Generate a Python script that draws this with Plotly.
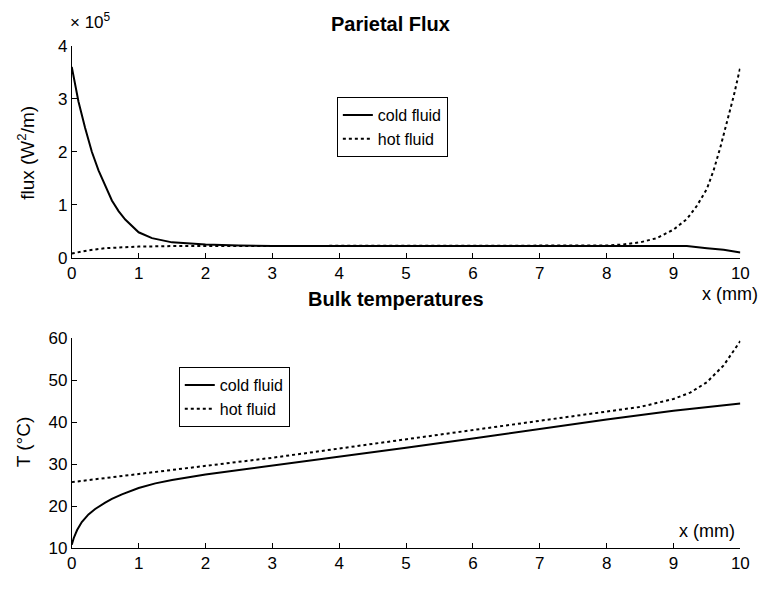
import plotly.graph_objects as go

# ---- data: Parietal flux (units of 1e5 W/m) ----
x_flux_cold = [0, 0.05, 0.1, 0.2, 0.3, 0.4, 0.5, 0.6, 0.7, 0.8, 1.0, 1.2, 1.5, 2.0, 2.5, 3, 4, 5, 6, 7, 8, 9, 9.2, 9.5, 9.75, 10]
flux_cold = [3.6, 3.25, 2.95, 2.45, 2.0, 1.65, 1.35, 1.08, 0.88, 0.72, 0.48, 0.37, 0.29, 0.25, 0.23, 0.22, 0.22, 0.22, 0.22, 0.22, 0.22, 0.22, 0.22, 0.18, 0.15, 0.1]
x_flux_hot = [0, 0.25, 0.5, 1.0, 1.5, 2, 3, 4, 5, 6, 7, 8, 8.25, 8.5, 8.75, 9.0, 9.2, 9.35, 9.5, 9.6, 9.7, 9.8, 9.9, 10]
flux_hot = [0.08, 0.14, 0.18, 0.21, 0.22, 0.22, 0.22, 0.22, 0.22, 0.22, 0.22, 0.23, 0.25, 0.29, 0.37, 0.53, 0.73, 0.98, 1.3, 1.65, 2.08, 2.56, 3.05, 3.6]

# ---- data: Bulk temperatures (°C) ----
x_temp_cold = [0, 0.03, 0.08, 0.15, 0.25, 0.35, 0.5, 0.6, 0.75, 1.0, 1.25, 1.5, 2, 3, 4, 5, 6, 7, 8, 9, 9.5, 10]
temp_cold = [10.8, 12.4, 14.3, 16.2, 18.0, 19.3, 20.8, 21.7, 22.8, 24.3, 25.4, 26.2, 27.5, 29.6, 31.7, 33.9, 36.1, 38.4, 40.6, 42.7, 43.6, 44.4]
x_temp_hot = [0, 1, 2, 3, 4, 5, 6, 7, 8, 8.5, 9, 9.25, 9.5, 9.75, 10]
temp_hot = [25.7, 27.6, 29.6, 31.5, 33.7, 35.9, 38.1, 40.2, 42.4, 43.6, 45.5, 47.0, 49.5, 53.5, 59.3]

series_names = ["cold fluid", "hot fluid"]
x_ticks = [0, 1, 2, 3, 4, 5, 6, 7, 8, 9, 10]

W, H = 769, 590
FONT = "Liberation Sans, Arial, sans-serif"

fig = go.Figure()
solid = dict(color="black", width=2)
dotted = dict(color="black", width=2, dash="dot")

fig.add_trace(go.Scatter(x=x_flux_cold, y=flux_cold, mode="lines", line=solid,
                         name=series_names[0], xaxis="x", yaxis="y", legend="legend"))
fig.add_trace(go.Scatter(x=x_flux_hot, y=flux_hot, mode="lines", line=dotted,
                         name=series_names[1], xaxis="x", yaxis="y", legend="legend"))
fig.add_trace(go.Scatter(x=x_temp_cold, y=temp_cold, mode="lines", line=solid,
                         name=series_names[0], xaxis="x2", yaxis="y2", legend="legend2"))
fig.add_trace(go.Scatter(x=x_temp_hot, y=temp_hot, mode="lines", line=dotted,
                         name=series_names[1], xaxis="x2", yaxis="y2", legend="legend2"))

x0, x1 = 68 / W, 749 / W
axis_common = dict(showline=True, linecolor="black", linewidth=1, ticks="inside",
                   ticklen=5, tickcolor="black", showgrid=False, zeroline=False,
                   tickfont=dict(family=FONT, size=17, color="black"), mirror=False)

fig.update_layout(
    width=W, height=H, margin=dict(l=0, r=0, t=0, b=0),
    paper_bgcolor="white", plot_bgcolor="white", showlegend=True,
    font=dict(family=FONT, color="black"),
    xaxis=dict(domain=[x0, x1], range=[0, 10], tickvals=x_ticks, anchor="y", **axis_common),
    yaxis=dict(domain=[1 - 257 / H, 1 - 38 / H], range=[0, 4], tickvals=[0, 1, 2, 3, 4], anchor="x", **axis_common),
    xaxis2=dict(domain=[x0, x1], range=[0, 10], tickvals=x_ticks, anchor="y2", **axis_common),
    yaxis2=dict(domain=[1 - 557 / H, 1 - 340 / H], range=[10, 60], tickvals=[10, 20, 30, 40, 50, 60], anchor="x2", **axis_common),
    legend=dict(x=338 / W, y=1 - 91 / H, xanchor="left", yanchor="top",
                bordercolor="black", borderwidth=1, bgcolor="white",
                font=dict(family=FONT, size=16, color="black"), tracegroupgap=0),
    legend2=dict(x=177 / W, y=1 - 370 / H, xanchor="left", yanchor="top",
                 bordercolor="black", borderwidth=1, bgcolor="white",
                 font=dict(family=FONT, size=16, color="black"), tracegroupgap=0),
)

def ann(text, x, y, size=15, xanchor="center", yanchor="middle", angle=0):
    fig.add_annotation(text=text, x=x / W, y=1 - y / H, xref="paper", yref="paper",
                       showarrow=False, xanchor=xanchor, yanchor=yanchor, textangle=angle,
                       font=dict(family=FONT, size=size, color="black"))

ann("<b>Parietal Flux</b>", 393, 16, size=20)
ann("<b>Bulk temperatures</b>", 398, 300, size=20)
ann("× 10<sup>5</sup>", 64, 12, size=17, xanchor="left")
ann("flux (W<sup>2</sup>/m)", 22, 149, size=19, angle=-90)
ann("T (°C)", 19, 447, size=19, angle=-90)
ann("x (mm)", 769, 294, size=18, xanchor="right")
ann("x (mm)", 746, 539, size=18, xanchor="right")

fig.write_html("out.html")
